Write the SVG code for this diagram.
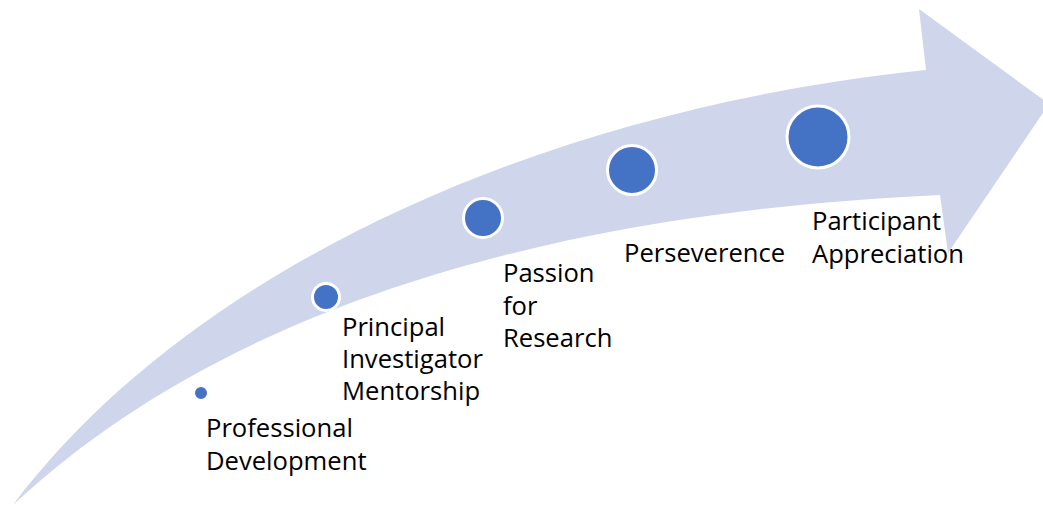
<svg xmlns="http://www.w3.org/2000/svg" width="1043" height="506" viewBox="0 0 1043 506">
  <style>
    .band { fill: #CFD5EA; }
    .dot { fill: #4472C4; stroke: #FFFFFF; stroke-width: 3; }
    .label { font-family: "Open Sans", "Noto Sans", sans-serif; font-size: 25.6px; fill: #000000; }
  </style>
  <rect width="1043" height="506" fill="#FFFFFF"/>

  <!-- sweeping arrow band with its head -->
  <g id="connectors">
    <path class="band" d="M13,505 C190,270 540,110 926,70 L919,9 L1049,104 L948,253 L940,195 C500,215 200,330 13,505 Z"/>
  </g>

  <g id="node-professional-development">
    <circle class="dot" cx="201" cy="393" r="7.5"/>
    <text class="label" x="206" y="437">Professional</text>
    <text class="label" x="206" y="470">Development</text>
  </g>

  <g id="node-pi-mentorship">
    <circle class="dot" cx="326" cy="297" r="13.5"/>
    <text class="label" x="342" y="336">Principal</text>
    <text class="label" x="342" y="368">Investigator</text>
    <text class="label" x="342" y="400">Mentorship</text>
  </g>

  <g id="node-passion">
    <circle class="dot" cx="483" cy="218" r="19.5"/>
    <text class="label" x="503" y="282">Passion</text>
    <text class="label" x="503" y="315">for</text>
    <text class="label" x="503" y="347">Research</text>
  </g>

  <g id="node-perseverence">
    <circle class="dot" cx="632" cy="170" r="24.5"/>
    <text class="label" x="624" y="262">Perseverence</text>
  </g>

  <g id="node-participant-appreciation">
    <circle class="dot" cx="818" cy="137" r="31"/>
    <text class="label" x="812" y="230">Participant</text>
    <text class="label" x="812" y="263">Appreciation</text>
  </g>
</svg>
